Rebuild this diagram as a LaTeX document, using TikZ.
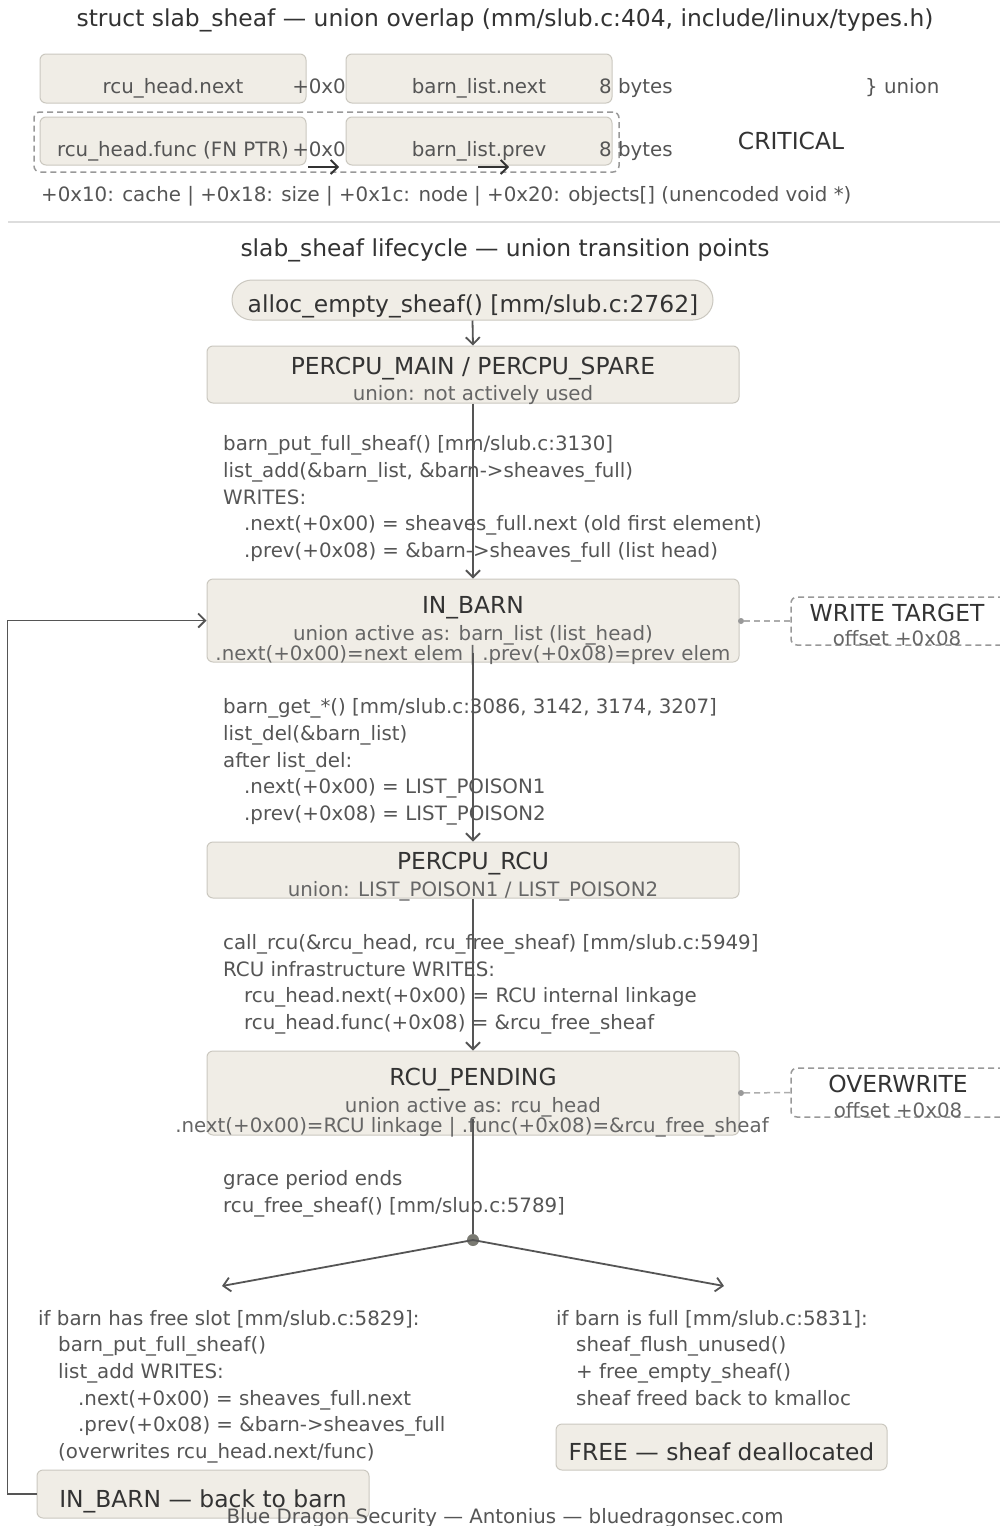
\documentclass[tikz,border=0pt]{standalone}
\usepackage{fontspec}
\setmainfont{DejaVu Sans}
\usetikzlibrary{arrows.meta}
\definecolor{boxfill}{HTML}{F0EDE6}
\definecolor{boxline}{HTML}{CBC8C0}
\definecolor{txt}{HTML}{333333}
\definecolor{subc}{HTML}{666666}
\definecolor{lblc}{HTML}{555555}
\definecolor{edgec}{HTML}{555555}
\definecolor{dashc}{HTML}{999999}
\definecolor{dotc}{HTML}{7A7A72}
\definecolor{sepc}{HTML}{DDDDDD}
\tikzset{
  statebox/.style={draw=boxline, fill=boxfill, rounded corners=6pt, line width=1pt, inner sep=0},
  hdr/.style={font=\fontsize{23.4}{27}\selectfont, text=txt, inner sep=0, anchor=mid, yshift=-5.5pt},
  subt/.style={font=\fontsize{19.8}{24}\selectfont, text=subc, inner sep=0, anchor=mid, yshift=-5.5pt},
  lbltxt/.style={font=\fontsize{19.8}{24}\selectfont, text=lblc, inner sep=0, anchor=mid west, yshift=-5.5pt},
  flow/.style={draw=edgec, line width=1.8pt, -{Straight Barb[length=7pt,width=14pt,line width=1.8pt]}},
  plainflow/.style={draw=edgec, line width=1.8pt},
  dashbox/.style={draw=dashc, dash pattern=on 6pt off 4pt, line width=1.5pt, rounded corners=6pt, inner sep=0},
  dashlink/.style={draw=dashc!80, dash pattern=on 6pt off 4pt, line width=1.5pt},
  smalldot/.style={circle, fill=dashc, inner sep=0, minimum size=6pt},
}
\begin{document}
\begin{tikzpicture}[x=1pt,y=-1pt]
\clip (0,0) rectangle (1000,1526);
\fill[white] (0,0) rectangle (1000,1526);

% ---------- title ----------
\node[hdr] (title1) at (505,18) {struct slab\_sheaf — union overlap (mm/slub.c:404, include/linux/types.h)};

% ---------- memory layout ----------
\node[dashbox, minimum width=585pt, minimum height=60pt] (crit) at (326.5,142) {};
\node[statebox, minimum width=266pt, minimum height=49pt] (b1) at (173,78.5) {};
\node[statebox, minimum width=266pt, minimum height=49pt] (b2) at (479,78.5) {};
\node[statebox, minimum width=266pt, minimum height=48pt] (b3) at (173,141) {};
\node[statebox, minimum width=266pt, minimum height=48pt] (b4) at (479,141) {};

\node[subt, text=lblc] (t1) at (173,85) {rcu\_head.next};
\node[subt, text=lblc] (t2) at (479,85) {barn\_list.next};
\node[subt, text=lblc] (t3) at (173,148) {rcu\_head.func (FN PTR)};
\node[subt, text=lblc] (t4) at (479,148) {barn\_list.prev};
\node[lbltxt, anchor=mid east] (o1) at (346,85) {+0x0};
\node[lbltxt, anchor=mid east] (o2) at (346,148) {+0x0};
\node[lbltxt] (s1) at (599,85) {8 bytes};
\node[lbltxt] (s2) at (599,148) {8 bytes};
\node[lbltxt] (un) at (865,85) {\} union};
\node[hdr] (crl) at (791,141) {CRITICAL};

\coordinate (a1s) at (308,167);
\coordinate (a1e) at (339,167);
\coordinate (a2s) at (478,167);
\coordinate (a2e) at (509,167);
\draw[flow, draw=txt, line width=2.4pt] (a1s) -- (a1e);
\draw[flow, draw=txt, line width=2.4pt] (a2s) -- (a2e);

\node[lbltxt] (rest) at (41,193) {+0x10: cache | +0x18: size | +0x1c: node | +0x20: objects[] (unencoded void *)};

\coordinate (sepl) at (8,222);
\coordinate (sepr) at (1000,222);
\draw[sepc, line width=1.5pt] (sepl) -- (sepr);

% ---------- lifecycle ----------
\node[hdr] (title2) at (505,248) {slab\_sheaf lifecycle — union transition points};

\node[statebox, rounded corners=20pt, minimum width=481pt, minimum height=40pt] (alloc) at (472.5,300) {};
\node[hdr] (alloct) at (473,304) {alloc\_empty\_sheaf() [mm/slub.c:2762]};

\node[statebox, minimum width=532pt, minimum height=57pt] (pm) at (473,374.5) {};
\node[hdr] (pmh) at (473,366) {PERCPU\_MAIN / PERCPU\_SPARE};
\node[subt] (pms) at (473,392) {union: not actively used};

\node[statebox, minimum width=532pt, minimum height=83pt] (inbarn) at (473,620.5) {};
\node[hdr] (ibh) at (473,605) {IN\_BARN};
\node[subt] (ibs) at (473,632) {union active as: barn\_list (list\_head)};
\node[subt] (ibs2) at (473,652) {.next(+0x00)=next elem | .prev(+0x08)=prev elem};

\node[statebox, minimum width=532pt, minimum height=56pt] (rcu) at (473,870) {};
\node[hdr] (rcuh) at (473,861) {PERCPU\_RCU};
\node[subt] (rcus) at (473,888) {union: LIST\_POISON1 / LIST\_POISON2};

\node[statebox, minimum width=532pt, minimum height=84pt] (pend) at (473,1093) {};
\node[hdr] (pendh) at (473,1077) {RCU\_PENDING};
\node[subt] (pends) at (473,1104) {union active as: rcu\_head};
\node[subt] (pends2) at (472,1124) {.next(+0x00)=RCU linkage | .func(+0x08)=\&rcu\_free\_sheaf};

% side notes
\node[dashbox, minimum width=219pt, minimum height=48pt] (wt) at (900.5,621) {};
\node[hdr] (wth) at (897,613) {WRITE TARGET};
\node[subt] (wts) at (897,637) {offset +0x08};
\node[smalldot] (d1) at (741,621) {};
\draw[dashlink] (d1) -- (wt.west);

\node[dashbox, minimum width=219pt, minimum height=49pt] (ow) at (900.5,1092.5) {};
\node[hdr] (owh) at (898,1084) {OVERWRITE};
\node[subt] (ows) at (898,1109) {offset +0x08};
\node[smalldot] (d2) at (741,1093) {};
\draw[dashlink] (d2) -- (ow.west);

% edge labels
\node[lbltxt] (e1a) at (223,442) {barn\_put\_full\_sheaf() [mm/slub.c:3130]};
\node[lbltxt] (e1b) at (223,469) {list\_add(\&barn\_list, \&barn->sheaves\_full)};
\node[lbltxt] (e1c) at (223,496) {WRITES:};
\node[lbltxt] (e1d) at (244,522) {.next(+0x00) = sheaves\_full.next (old first element)};
\node[lbltxt] (e1e) at (244,549) {.prev(+0x08) = \&barn->sheaves\_full (list head)};

\node[lbltxt] (e2a) at (223,705) {barn\_get\_*() [mm/slub.c:3086, 3142, 3174, 3207]};
\node[lbltxt] (e2b) at (223,732) {list\_del(\&barn\_list)};
\node[lbltxt] (e2c) at (223,759) {after list\_del:};
\node[lbltxt] (e2d) at (244,785) {.next(+0x00) = LIST\_POISON1};
\node[lbltxt] (e2e) at (244,812) {.prev(+0x08) = LIST\_POISON2};

\node[lbltxt] (e3a) at (223,941) {call\_rcu(\&rcu\_head, rcu\_free\_sheaf) [mm/slub.c:5949]};
\node[lbltxt] (e3b) at (223,968) {RCU infrastructure WRITES:};
\node[lbltxt] (e3c) at (244,994) {rcu\_head.next(+0x00) = RCU internal linkage};
\node[lbltxt] (e3d) at (244,1021) {rcu\_head.func(+0x08) = \&rcu\_free\_sheaf};

\node[lbltxt] (e4a) at (223,1177) {grace period ends};
\node[lbltxt] (e4b) at (223,1204) {rcu\_free\_sheaf() [mm/slub.c:5789]};

% branches
\node[lbltxt] (l1) at (38,1317) {if barn has free slot [mm/slub.c:5829]:};
\node[lbltxt] (l2) at (58,1343) {barn\_put\_full\_sheaf()};
\node[lbltxt] (l3) at (58,1370) {list\_add WRITES:};
\node[lbltxt] (l4) at (78,1397) {.next(+0x00) = sheaves\_full.next};
\node[lbltxt] (l5) at (78,1423) {.prev(+0x08) = \&barn->sheaves\_full};
\node[lbltxt] (l6) at (58,1450) {(overwrites rcu\_head.next/func)};

\node[lbltxt] (r1) at (556,1317) {if barn is full [mm/slub.c:5831]:};
\node[lbltxt] (r2) at (576,1343) {sheaf\_flush\_unused()};
\node[lbltxt] (r3) at (576,1370) {+ free\_empty\_sheaf()};
\node[lbltxt] (r4) at (576,1397) {sheaf freed back to kmalloc};

\node[statebox, minimum width=331pt, minimum height=46pt] (free) at (721.5,1447) {};
\node[hdr] (freet) at (721.5,1452) {FREE — sheaf deallocated};

\node[statebox, minimum width=332pt, minimum height=48pt] (back) at (203,1494) {};
\node[hdr] (backt) at (203,1499) {IN\_BARN — back to barn};

% ---------- connectors ----------
\draw[flow] (alloc.south) -- (pm.north);
\draw[flow] (pm.south) -- (inbarn.north);
\draw[flow] ([yshift=10pt]inbarn.south) -- (rcu.north);
\draw[flow] (rcu.south) -- (pend.north);
\node[circle, fill=dotc, inner sep=0, minimum size=12pt] (split) at (473,1240) {};
\draw[plainflow] ([yshift=17pt]pend.south) -- (split.north);
\coordinate (lt) at (222,1286);
\coordinate (rt) at (724,1286);
\draw[flow] (split.center) -- (lt);
\draw[flow] (split.center) -- (rt);
\draw[flow] (back.west) -- ++(-29,0) |- (inbarn.west);

\node[subt, text=lblc] (foot) at (505,1515) {Blue Dragon Security — Antonius — bluedragonsec.com};
\end{tikzpicture}
\end{document}
